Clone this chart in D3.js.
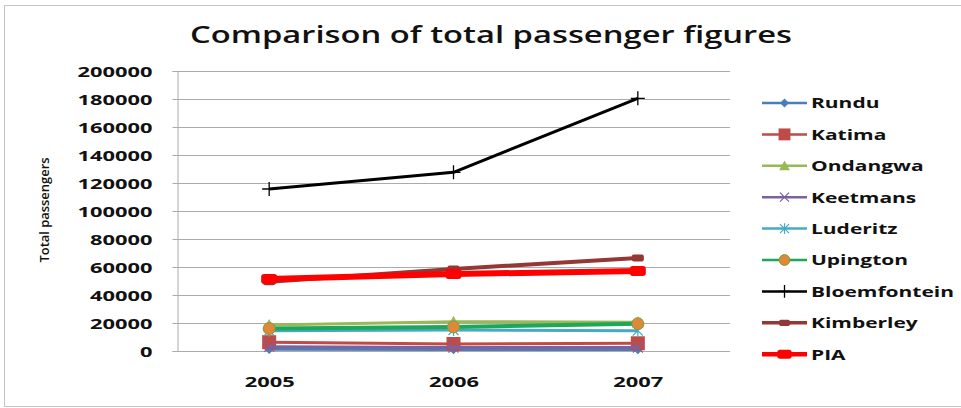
<!DOCTYPE html>
<html>
<head>
<meta charset="utf-8">
<script src="https://cdn.jsdelivr.net/npm/d3@7/dist/d3.min.js"></script>
<style>
  html, body { margin: 0; padding: 0; background: #fff; }
  svg { display: block; }
  text { font-family: "Open Sans", "Liberation Sans", sans-serif; font-weight: 700; fill: #111; }
</style>
</head>
<body>
<svg id="chart" width="961" height="408"></svg>
<script>
// Years on the category axis
const years = ["2005", "2006", "2007"];
// Tick values for the passenger axis
const yTicks = [0, 20000, 40000, 60000, 80000, 100000, 120000, 140000, 160000, 180000, 200000];

// Total passengers per airport, one array per series (2005, 2006, 2007)
const rundu        = [1500, 1200, 1200];
const katima       = [6300, 5000, 5500];
const ondangwa     = [18600, 20900, 20600];
const keetmans     = [3000, 2500, 2500];
const luderitz     = [14500, 15000, 14500];
const upington     = [16000, 17200, 19500];
const bloemfontein = [115700, 127600, 180500];
const kimberley    = [49500, 58600, 66400];
const pia          = [51400, 55000, 57100];

const seriesNames = ["Rundu", "Katima", "Ondangwa", "Keetmans", "Luderitz", "Upington", "Bloemfontein", "Kimberley", "PIA"];
const seriesValues = [rundu, katima, ondangwa, keetmans, luderitz, upington, bloemfontein, kimberley, pia];

// Visual style per series
const styles = {
  Rundu:        { color: "#4a7ebb", width: 3.5, marker: "diamond" },
  Katima:       { color: "#be4b48", width: 3,   marker: "square" },
  Ondangwa:     { color: "#98b954", width: 3,   marker: "triangle" },
  Keetmans:     { color: "#7d60a0", width: 3,   marker: "x" },
  Luderitz:     { color: "#46aac5", width: 3,   marker: "star" },
  Upington:     { color: "#1ea65a", width: 4,   marker: "circle", fill: "#e0883a" },
  Bloemfontein: { color: "#000000", width: 3,   marker: "plus" },
  Kimberley:    { color: "#953735", width: 4,   marker: "dash" },
  PIA:          { color: "#ff0000", width: 6,   marker: "bar" }
};

const series = seriesNames.map((n, i) => ({ name: n, values: seriesValues[i], style: styles[n] }));

const svg = d3.select("#chart");

// Outer frame
svg.append("rect")
  .attr("x", 4.5).attr("y", 5.5).attr("width", 962).attr("height", 401)
  .attr("fill", "#fff").attr("stroke", "#c4c4c4").attr("stroke-width", 1);

const plot = { left: 177, right: 730, top: 71, bottom: 351 };

const x = d3.scalePoint().domain(years).range([plot.left, plot.right]).padding(0.5);
const y = d3.scaleLinear().domain([0, 200000]).range([plot.bottom, plot.top]);

// Stretch text horizontally by a factor
function stretch(sel, factor) {
  sel.each(function () {
    const w = this.getComputedTextLength();
    d3.select(this).attr("textLength", w * factor).attr("lengthAdjust", "spacingAndGlyphs");
  });
}

// Horizontal grid lines
svg.append("g")
  .selectAll("line")
  .data(yTicks)
  .join("line")
  .attr("x1", plot.left).attr("x2", plot.right)
  .attr("y1", d => Math.round(y(d)) + 0.5).attr("y2", d => Math.round(y(d)) + 0.5)
  .attr("stroke", "#ababab").attr("stroke-width", 1);

// Y axis
const yAxis = svg.append("g")
  .attr("transform", `translate(${plot.left + 0.5},0)`)
  .call(d3.axisLeft(y).tickValues(yTicks).tickSize(5).tickPadding(20).tickFormat(d3.format("d")));
yAxis.select(".domain").attr("stroke", "#ababab");
yAxis.selectAll(".tick line").attr("stroke", "#ababab");
yAxis.selectAll(".tick text")
  .attr("font-size", 15).attr("fill", "#111").attr("dy", "0.36em");
yAxis.attr("font-family", null);

// X axis
const xAxis = svg.append("g")
  .attr("transform", `translate(0,${plot.bottom + 0.5})`)
  .call(d3.axisBottom(x).tickSize(0).tickPadding(25));
xAxis.select(".domain").remove();
xAxis.attr("font-family", null);
xAxis.selectAll(".tick text").attr("font-size", 15).attr("fill", "#111");

// Lines
const line = d3.line().x((d, i) => x(years[i])).y(d => y(d));

const seriesG = svg.append("g").selectAll("g").data(series).join("g");
seriesG.append("path")
  .attr("d", d => line(d.values))
  .attr("fill", "none")
  .attr("stroke", d => d.style.color)
  .attr("stroke-width", d => d.style.width)
  .attr("stroke-linejoin", "round");

// Marker drawing
function drawMarker(g, s, k) {
  const c = s.color;
  switch (s.marker) {
    case "diamond":
      g.append("path").attr("d", `M0,${-5*k}L${5*k},0L0,${5*k}L${-5*k},0Z`).attr("fill", c);
      break;
    case "square":
      g.append("rect").attr("x", -7*k).attr("y", -7*k).attr("width", 14*k).attr("height", 14*k).attr("fill", c);
      break;
    case "triangle":
      g.append("path").attr("d", `M0,${-6*k}L${6*k},${5*k}L${-6*k},${5*k}Z`).attr("fill", c);
      break;
    case "x":
      g.append("path").attr("d", `M${-5*k},${-5*k}L${5*k},${5*k}M${5*k},${-5*k}L${-5*k},${5*k}`)
        .attr("stroke", c).attr("stroke-width", 1.2).attr("fill", "none");
      break;
    case "star":
      g.append("path").attr("d", `M${-5*k},${-5*k}L${5*k},${5*k}M${5*k},${-5*k}L${-5*k},${5*k}M0,${-6*k}L0,${6*k}`)
        .attr("stroke", c).attr("stroke-width", 1.2).attr("fill", "none");
      break;
    case "circle":
      g.append("circle").attr("r", 6*k).attr("fill", s.fill).attr("stroke", "#7aa03c").attr("stroke-width", 1);
      break;
    case "plus":
      g.append("path").attr("d", `M${-7*k},0L${7*k},0M0,${-7*k}L0,${7*k}`)
        .attr("stroke", c).attr("stroke-width", 1.3).attr("fill", "none");
      break;
    case "dash":
      g.append("rect").attr("x", -6*k).attr("y", -3.5*k).attr("width", 12*k).attr("height", 7*k)
        .attr("rx", 2*k).attr("fill", c);
      break;
    case "bar":
      g.append("rect").attr("x", -8*k).attr("y", -5*k).attr("width", 16*k).attr("height", 10*k)
        .attr("rx", 3*k).attr("fill", c);
      break;
  }
}

seriesG.each(function (s) {
  const g = d3.select(this);
  s.values.forEach((v, i) => {
    const mg = g.append("g").attr("transform", `translate(${x(years[i])},${y(v)})`);
    drawMarker(mg, s.style, 1);
  });
});

// Legend
const legend = svg.append("g").attr("transform", "translate(762,103)");
const rowH = 31.4;
const items = legend.selectAll("g").data(series).join("g")
  .attr("transform", (d, i) => `translate(0,${i * rowH})`);
items.append("line")
  .attr("x1", 0).attr("x2", 45).attr("y1", 0).attr("y2", 0)
  .attr("stroke", d => d.style.color)
  .attr("stroke-width", d => d.name === "PIA" ? 4.5 : d.name === "Kimberley" ? 3.5 : 2.5);
items.each(function (s) {
  const mg = d3.select(this).append("g").attr("transform", "translate(22.5,0)");
  drawMarker(mg, s.style, s.style.marker === "square" ? 0.85 : 0.9);
});
const legendText = items.append("text")
  .attr("x", 49).attr("y", 0).attr("dy", "0.36em")
  .attr("font-size", 15)
  .text(d => d.name);

// Title
const title = svg.append("text")
  .attr("x", 190).attr("y", 43)
  .attr("font-size", 23)
  .style("font-weight", 600)
  .text("Comparison of total passenger figures");

// Y axis title
const yTitle = svg.append("text")
  .attr("transform", "translate(49,210) rotate(-90)")
  .attr("text-anchor", "middle")
  .attr("font-size", 12)
  .style("font-weight", 600)
  .text("Total passengers");

// Horizontal stretch to get the wide bold look
function fitWidth(sel, target) {
  const w = sel.node().getComputedTextLength();
  return target / w;
}
const tickFactor = fitWidth(yAxis.selectAll(".tick text").filter(d => d === 200000), 75);
stretch(yAxis.selectAll(".tick text"), tickFactor);
stretch(xAxis.selectAll(".tick text"), tickFactor);
const legFactor = fitWidth(legendText.filter(d => d.name === "Bloemfontein"), 143);
stretch(legendText, legFactor);
stretch(title, fitWidth(title, 602));
stretch(yTitle, fitWidth(yTitle, 105));
</script>
</body>
</html>
